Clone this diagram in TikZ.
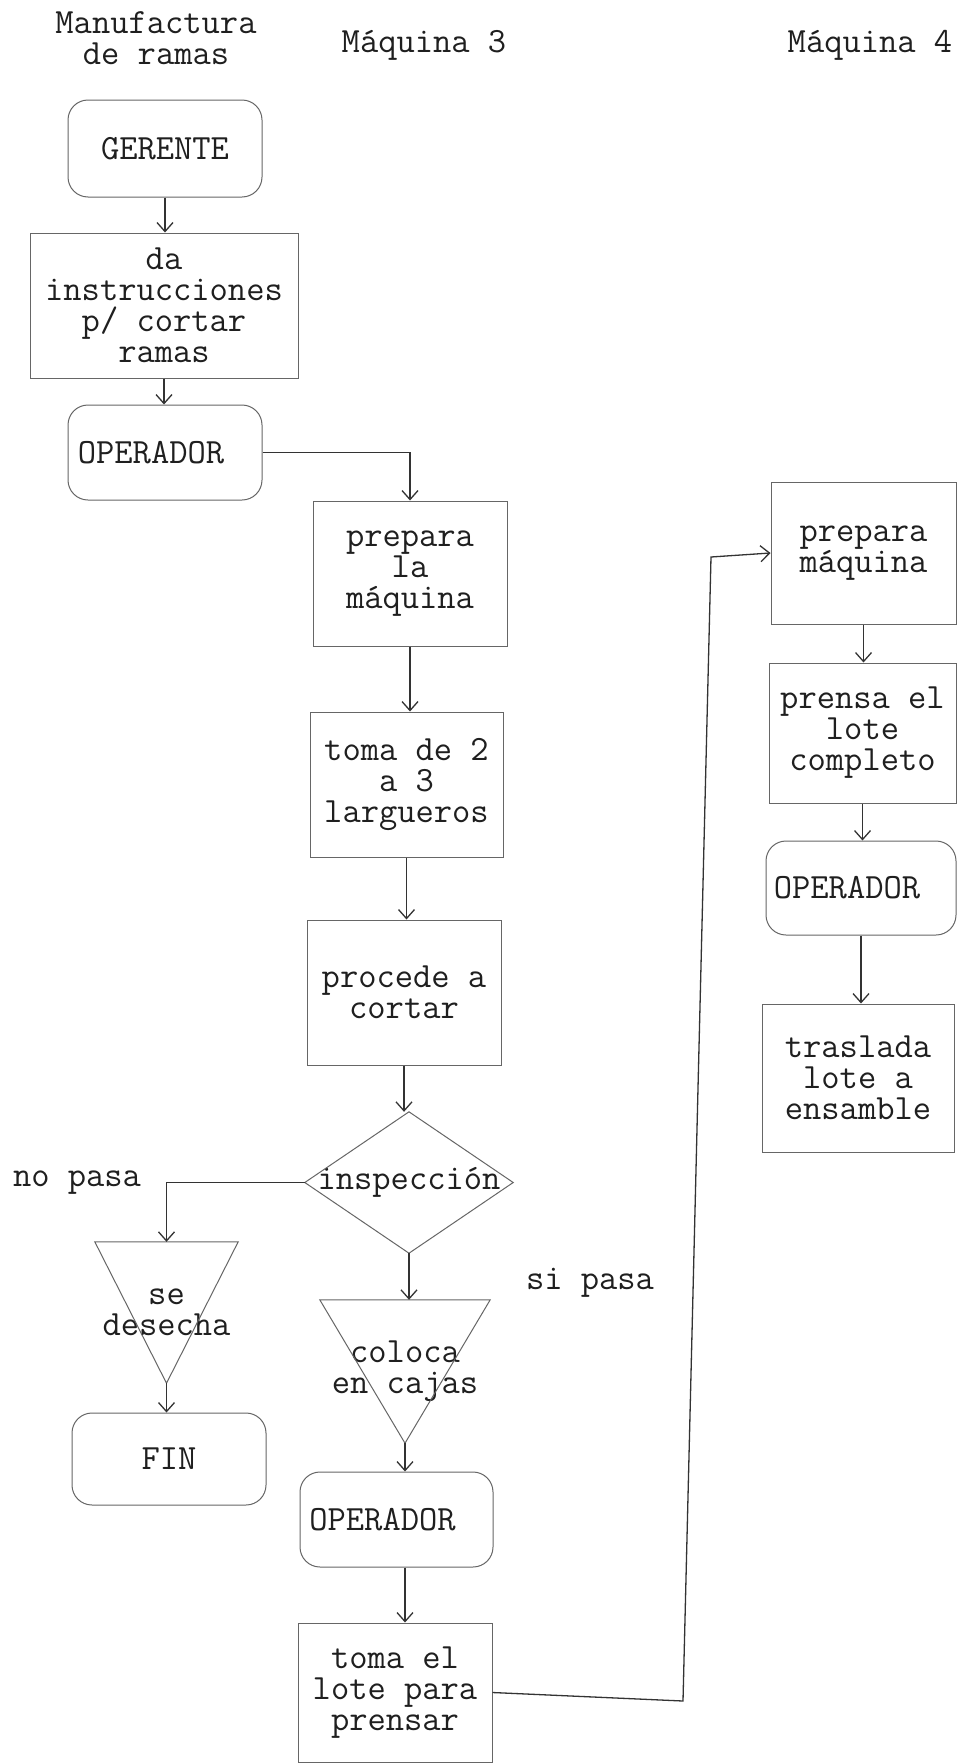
\documentclass[tikz,border=0pt]{standalone}
\usepackage{fontspec}
\usetikzlibrary{arrows.meta,calc}
\tikzset{
  lbl/.style={font=\fontsize{35.5}{31}\selectfont\ttfamily, text=black!88, align=center, inner sep=0pt},
  pbox/.style={lbl, draw=black!60, line width=1pt, rectangle},
  rbox/.style={pbox, rounded corners=20pt},
  ghost/.style={lbl, rectangle},
  shp/.style={draw=black!60, line width=1pt},
  conn/.style={draw=black!80, line width=1.3pt},
  arr/.style={conn, -{Straight Barb[length=9pt,width=16pt]}}
}
\begin{document}
\begin{tikzpicture}[x=1pt,y=-1pt]
\fill[white] (0,0) rectangle (958,1764);
\useasboundingbox (0,0) rectangle (958,1764);

% column headings
\node[lbl] (h1) at (156,38) {Manufactura\\de ramas};
\node[lbl] (h2) at (424,45) {Máquina 3};
\node[lbl] (h3) at (870,45) {Máquina 4};

% column 1
\node[rbox, minimum width=194pt, minimum height=97pt] (ger) at (165,148.5) {GERENTE};
\node[pbox, minimum width=268pt, minimum height=145pt] (dai) at (164,305.5) {da\\instrucciones\\p/ cortar\\ramas};
\node[rbox, minimum width=194pt, minimum height=95pt] (op1) at (165,452.5) {\hspace*{-28pt}OPERADOR};

% column 2
\node[pbox, minimum width=194pt, minimum height=145pt] (prep) at (410,573.5) {prepara\\la\\máquina};
\node[pbox, minimum width=193pt, minimum height=145pt] (tom) at (406.5,784.5) {toma de 2\\a 3\\largueros};
\node[pbox, minimum width=194pt, minimum height=145pt] (proc) at (404,992.5) {procede a\\cortar};
\node[ghost, minimum width=208pt, minimum height=141pt] (insp) at (409,1182.5) {inspección};
\draw[shp] (insp.north) -- (insp.east) -- (insp.south) -- (insp.west) -- cycle;
\node[ghost, minimum width=170pt, minimum height=143pt] (col) at (405,1371.5) {coloca\\en cajas};
\draw[shp] (col.north west) -- (col.north east) -- (col.south) -- cycle;
\node[rbox, minimum width=193pt, minimum height=95pt] (op2) at (396.5,1519.5) {\hspace*{-28pt}OPERADOR};
\node[pbox, minimum width=194pt, minimum height=139pt] (tl) at (395,1692.5) {toma el\\lote para\\prensar};

% rejection branch
\node[ghost, minimum width=143pt, minimum height=141pt] (des) at (166.5,1312.5) {se\\desecha};
\draw[shp] (des.north west) -- (des.north east) -- (des.south) -- cycle;
\node[rbox, minimum width=194pt, minimum height=92pt] (fin) at (169,1459) {FIN};
\node[lbl] (np) at (77,1183) {no pasa};
\node[lbl] (sp) at (590,1283) {si pasa};

% column 3
\node[pbox, minimum width=185pt, minimum height=142pt] (prep4) at (863.5,553) {prepara\\máquina};
\node[pbox, minimum width=187pt, minimum height=140pt] (prensa) at (862.5,733) {prensa el\\lote\\completo};
\node[rbox, minimum width=190pt, minimum height=94pt] (op3) at (861,888) {\hspace*{-28pt}OPERADOR};
\node[pbox, minimum width=192pt, minimum height=148pt] (tras) at (858,1078) {traslada\\lote a\\ensamble};

% connectors
\draw[arr] (ger.south) -- (ger.south |- dai.north);
\draw[arr] (dai.south) -- (dai.south |- op1.north);
\draw[arr] (op1.east) -| (prep.north);
\draw[arr] (prep.south) -- (prep.south |- tom.north);
\draw[arr] (tom.south) -- (tom.south |- proc.north);
\draw[arr] (proc.south) -- (proc.south |- insp.north);
\draw[arr] (insp.west) -| (des.north);
\draw[arr] (des.south) -- (des.south |- fin.north);
\draw[arr] (insp.south) -- (insp.south |- col.north);
\draw[arr] (col.south) -- (col.south |- op2.north);
\draw[arr] (col.south |- op2.south) -- (col.south |- tl.north);
\coordinate (k1) at (683,1701);
\coordinate (k2) at (711,557);
\draw[arr] (tl.east) -- (k1) -- (k2) -- (prep4.west);
\draw[arr] (prep4.south) -- (prep4.south |- prensa.north);
\draw[arr] (prensa.south) -- (prensa.south |- op3.north);
\draw[arr] (op3.south) -- (op3.south |- tras.north);
\end{tikzpicture}
\end{document}
